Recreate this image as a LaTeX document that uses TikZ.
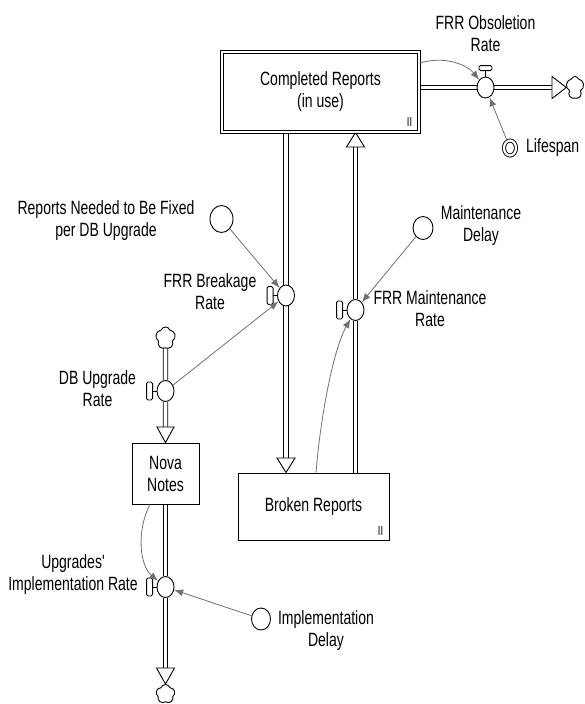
\documentclass[tikz,border=0pt]{standalone}
\usepackage{fontspec}
\setmainfont[FakeStretch=0.73, Ligatures=TeXOff]{Liberation Sans}
\usetikzlibrary{arrows.meta,shapes.geometric,shapes.symbols}

\pgfdeclarelayer{pipes}
\pgfsetlayers{pipes,main}

\definecolor{infogray}{HTML}{707070}

\tikzset{
  lbl/.style={font=\fontsize{19.2}{22}\selectfont, align=center, inner sep=0pt},
  stock/.style={draw, fill=white, line width=0.9pt, inner sep=0pt},
  pipe/.style={draw, line width=0.9pt, double=white, double distance=3.6pt},
  valve/.style={ellipse, draw, fill=white, line width=0.9pt, minimum width=17pt, minimum height=21pt, inner sep=0pt},
  aux/.style={ellipse, draw, fill=white, line width=0.9pt, inner sep=0pt},
  info/.style={draw=infogray, line width=0.8pt, -{Latex[length=9pt,width=7pt]}},
  puff/.style={cloud, cloud puffs=5, cloud puff arc=140, cloud ignores aspect, draw, fill=white, line width=0.9pt, inner sep=0pt},
  flowtip/.style={draw, fill=white, line width=0.9pt, line join=miter},
  handlebar/.style={draw, fill=white, line width=0.9pt, rounded corners=1.5pt},
  marker/.style={font=\fontsize{13}{13}\selectfont, inner sep=0pt}
}

% valve grip on the left side of a valve
\newcommand\valvegripleft[1]{%
  \draw[line width=0.9pt] (#1.west) -- ++(-4,0);
  \draw[handlebar] ([xshift=-10pt,yshift=-9pt]#1.west) rectangle ([xshift=-4pt,yshift=9pt]#1.west);}
% valve grip on top of a valve
\newcommand\valvegriptop[1]{%
  \draw[line width=0.9pt] (#1.north) -- ++(0,-6);
  \draw[handlebar] ([xshift=-6.5pt,yshift=6pt]#1.north) rectangle ([xshift=6.5pt,yshift=11pt]#1.north);}

\begin{document}
\begin{tikzpicture}[x=1pt,y=-1pt]
\useasboundingbox (0,0) rectangle (584,704);

% stocks
\node[stock, double, double distance=2.2pt, minimum width=197pt, minimum height=80pt, lbl] (cr) at (320.5,92) {Completed Reports\\(in use)};
\node[marker, anchor=south east] (crmark) at ([xshift=-7pt,yshift=6pt]cr.south east) {II};
\node[stock, minimum width=151pt, minimum height=67pt, lbl] (brr) at (313.5,506.5) {Broken Reports};
\node[marker, anchor=south east] (brrmark) at ([xshift=-6pt,yshift=5pt]brr.south east) {II};
\node[stock, minimum width=67pt, minimum height=61pt, lbl] (nova) at (165.5,473.5) {Nova\\Notes};

% valves
\node[valve] (obs) at (485.5,87.5) {};
\node[valve] (brk) at (286,295.5) {};
\node[valve] (mv) at (355.5,310) {};
\node[valve] (dbv) at (165.5,391) {};
\node[valve] (uiv) at (165.5,587) {};

% clouds
\node[puff, minimum width=18pt, minimum height=22pt] (sinkA) at (575,87.5) {};
\node[puff, minimum width=20pt, minimum height=22pt] (srcA) at (165.5,338) {};
\node[puff, minimum width=19pt, minimum height=19pt] (sinkB) at (165.5,694) {};

% auxiliaries
\node[aux, minimum width=23pt, minimum height=27pt] (rnf) at (221.5,219) {};
\node[aux, minimum width=20pt, minimum height=23pt] (md) at (423,228) {};
\node[aux, minimum width=19pt, minimum height=22pt] (idl) at (261,619) {};
\node[aux, double, double distance=2.2pt, minimum width=12pt, minimum height=15pt] (life) at (510,148) {};

% flow end points
\coordinate (obsend) at (552,87.5);
\coordinate (brkend) at (286,458);
\coordinate (mvend) at (355.5,147);
\coordinate (dbvend) at (165.5,427);
\coordinate (uivend) at (165.5,668);

% pipes and flow heads
\begin{pgfonlayer}{pipes}
\draw[pipe] (cr.east |- obs) -- (obs) -- (obsend);
\draw[pipe] (cr.south -| brk) -- (brk) -- (brkend);
\draw[pipe] (brr.north -| mv) -- (mv) -- (mvend);
\draw[pipe] (srcA) -- (dbv) -- (dbvend);
\draw[pipe] (nova.south -| uiv) -- (uiv) -- (uivend);
\draw[flowtip] ([yshift=11pt]obsend) -- (sinkA.west) -- ([yshift=-11pt]obsend) -- cycle;
\draw[flowtip] ([xshift=-9pt]brkend) -- (brkend |- brr.north) -- ([xshift=9pt]brkend) -- cycle;
\draw[flowtip] ([xshift=-9pt]mvend) -- (cr.south -| mvend) -- ([xshift=9pt]mvend) -- cycle;
\draw[flowtip] ([xshift=-8.5pt]dbvend) -- (nova.north -| dbvend) -- ([xshift=8.5pt]dbvend) -- cycle;
\draw[flowtip] ([xshift=-9pt]uivend) -- (sinkB.north) -- ([xshift=9pt]uivend) -- cycle;
\end{pgfonlayer}

% valve grips
\valvegriptop{obs}
\valvegripleft{brk}
\valvegripleft{mv}
\valvegripleft{dbv}
\valvegripleft{uiv}

% labels
\node[lbl] (obslbl) at (485.5,34) {FRR Obsoletion\\Rate};
\node[lbl, anchor=west] (lifelbl) at (526,148) {Lifespan};
\node[lbl] (rnflbl) at (106,221) {Reports Needed to Be Fixed\\per DB Upgrade};
\node[lbl] (brklbl) at (210,292) {FRR Breakage\\Rate};
\node[lbl] (mdlbl) at (481,226) {Maintenance\\Delay};
\node[lbl] (mvlbl) at (430,309) {FRR Maintenance\\Rate};
\node[lbl] (dbvlbl) at (97.5,389) {DB Upgrade\\Rate};
\node[lbl] (uivlbl) at (73,575) {Upgrades'\\Implementation Rate};
\node[lbl] (idllbl) at (326,631) {Implementation\\Delay};

% information links
\draw[info] (cr) .. controls (447,55) and (468,66) .. (obs);
\draw[info] (life) -- (obs);
\draw[info] (rnf) -- (brk);
\draw[info] (dbv) -- (brk);
\draw[info] (md) -- (mv);
\draw[info] (brr) .. controls (320,420) and (333,350) .. (mv);
\draw[info] (nova) .. controls (136,532) and (140,566) .. (uiv);
\draw[info] (idl) -- (uiv);
\end{tikzpicture}
\end{document}
